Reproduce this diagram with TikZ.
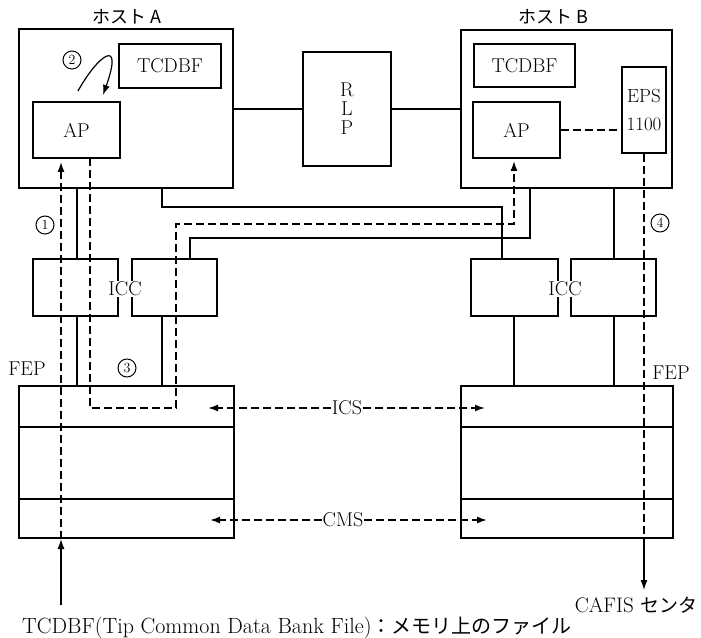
\documentclass[tikz,border=0pt]{standalone}
\usepackage{fontspec}
\newfontfamily\jpfont{Noto Sans CJK JP}
\usetikzlibrary{arrows.meta}

\begin{document}
\begin{tikzpicture}[x=1pt, y=-1pt, >={Latex[length=10pt,width=7pt]},
  every node/.style={font=\fontsize{20}{22}\selectfont},
  hostbox/.style={draw, line width=2pt, inner sep=0pt},
  unitbox/.style={draw, line width=1.8pt, inner sep=0pt, align=center},
  link/.style={line width=1.3pt},
  flow/.style={line width=1.5pt, dash pattern=on 8pt off 4pt},
  numcirc/.style={draw, circle, line width=1pt, inner sep=0pt, minimum size=18pt, font=\fontsize{14}{14}\selectfont}]
  \useasboundingbox (0,0) rectangle (701,637);

  % hosts and RLP
  \node[hostbox, minimum width=214pt, minimum height=159pt] (hostA) at (126,108.5) {};
  \node[hostbox, minimum width=211pt, minimum height=158pt] (hostB) at (566.5,109) {};
  \node[font=\fontsize{18}{20}\selectfont] (labA) at (127,17) {\jpfont ホスト\ A};
  \node[font=\fontsize{18}{20}\selectfont] (labB) at (553,17) {\jpfont ホスト\ B};
  \node[unitbox, minimum width=88pt, minimum height=114pt, font=\fontsize{20}{19}\selectfont] (rlp) at (347,109) {R\\L\\P};
  \draw[link] (hostA.east |- rlp.west) -- (rlp.west);
  \draw[link] (rlp.east) -- (hostB.west |- rlp.east);

  % inside host A
  \node[unitbox, minimum width=102pt, minimum height=44pt] (tcdbfA) at (170,66) {TCDBF};
  \node[unitbox, minimum width=87pt, minimum height=56pt] (apA) at (76.5,130) {AP};
  \node[numcirc] (n2) at (72,60) {2};
  \coordinate (c2s) at (78,91);
  \coordinate (c2e) at (103,95);
  \draw[link, line width=1.2pt, ->] (c2s) .. controls (98,55) and (124,36) .. (c2e);

  % inside host B
  \node[unitbox, minimum width=101pt, minimum height=43pt] (tcdbfB) at (524.5,65.5) {TCDBF};
  \node[unitbox, minimum width=87pt, minimum height=56pt] (apB) at (516.5,130) {AP};
  \node[unitbox, minimum width=44pt, minimum height=86pt, font=\fontsize{19}{20}\selectfont] (eps) at (644,110) {EPS\\[8pt]1100};
  \draw[flow] (apB.east) -- (apB.east -| eps.west);

  % ICC
  \node[hostbox, minimum width=85pt, minimum height=57pt] (iccA1) at (75.5,287.5) {};
  \node[hostbox, minimum width=85pt, minimum height=57pt] (iccA2) at (174.5,287.5) {};
  \node[hostbox, minimum width=87pt, minimum height=57pt] (iccB1) at (514.5,287.5) {};
  \node[hostbox, minimum width=85pt, minimum height=57pt] (iccB2) at (613.5,287.5) {};
  \node[fill=white, inner sep=1pt] (iccA) at (125,289) {ICC};
  \node[fill=white, inner sep=1pt] (iccB) at (565,289) {ICC};

  % FEP
  \node[hostbox, minimum width=215pt, minimum height=41pt] (fepA1) at (126.5,406.5) {};
  \node[hostbox, minimum width=215pt, minimum height=72pt] (fepA2) at (126.5,463) {};
  \node[hostbox, minimum width=215pt, minimum height=39pt] (fepA3) at (126.5,518.5) {};
  \node[hostbox, minimum width=212pt, minimum height=41pt] (fepB1) at (567,406.5) {};
  \node[hostbox, minimum width=212pt, minimum height=72pt] (fepB2) at (567,463) {};
  \node[hostbox, minimum width=212pt, minimum height=39pt] (fepB3) at (567,518.5) {};
  \node (fepLA) at (27,369) {FEP};
  \node (fepLB) at (671,373) {FEP};

  % solid links
  \draw[link] (77,188) -- (77,259);
  \draw[link] (77,316) -- (77,386);
  \draw[link] (162,188) -- (162,207) -- (502,207) -- (502,259);
  \draw[link] (190,259) -- (190,238) -- (530,238) -- (530,188);
  \draw[link] (162,316) -- (162,386);
  \draw[link] (614,188) -- (614,259);
  \draw[link] (614,316) -- (614,386);
  \draw[link] (514,316) -- (514,386);

  % flow 1
  \coordinate (inA) at (61,605);
  \draw[link, ->] (inA) -- (inA |- fepA3.south);
  \draw[flow, ->, shorten >=3pt] (inA |- fepA3.south) -- (inA |- apA.south);
  \node[numcirc] (n1) at (45,225) {1};

  % flow 3
  \coordinate (upB) at (514,224);
  \draw[flow, ->, shorten >=2pt] (90,158) -- (90,408) -- (176,408) -- (176,224) -- (upB) -- (upB |- apB.south);
  \node[numcirc] (n3) at (127,368) {3};

  % flow 4
  \coordinate (outB) at (644,590);
  \draw[flow] (eps.south) -- (eps.south |- fepB3.south);
  \draw[link, ->] (eps.south |- fepB3.south) -- (outB);
  \node[numcirc] (n4) at (660,223) {4};
  \node[font=\fontsize{21}{22}\selectfont] (cafis) at (636,605) {CAFIS {\jpfont\fontsize{19}{20}\selectfont センタ}};

  % ICS / CMS
  \node[inner sep=1pt] (ics) at (347,408) {ICS};
  \node[inner sep=1pt] (cms) at (343,520) {CMS};
  \coordinate (icsL) at (208,408);
  \coordinate (icsR) at (485,408);
  \coordinate (cmsL) at (210,520);
  \coordinate (cmsR) at (487,520);
  \draw[flow, ->] (ics) -- (icsL);
  \draw[flow, ->] (ics) -- (icsR);
  \draw[flow, ->] (cms) -- (cmsL);
  \draw[flow, ->] (cms) -- (cmsR);

  % note
  \node[anchor=west, inner sep=0pt, font=\fontsize{22}{24}\selectfont] (note) at (22,628) {TCDBF(Tip Common Data Bank File){\jpfont\fontsize{20}{22}\selectfont ：メモリ上のファイル}};
\end{tikzpicture}
\end{document}
